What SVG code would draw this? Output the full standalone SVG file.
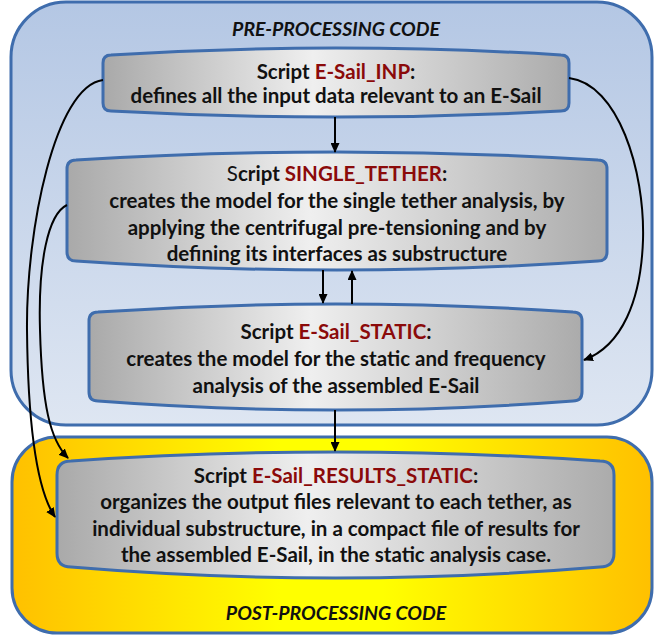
<svg xmlns="http://www.w3.org/2000/svg" width="654" height="637" viewBox="0 0 654 637">
  <defs>
    <linearGradient id="gPre" x1="0" y1="0" x2="0" y2="1">
      <stop offset="0" stop-color="#B4C7E4"/>
      <stop offset="1" stop-color="#DEE6F2"/>
    </linearGradient>
    <linearGradient id="gPost" x1="0" y1="0" x2="1" y2="0">
      <stop offset="0" stop-color="#FFC000"/>
      <stop offset="0.42" stop-color="#FFFF00"/>
      <stop offset="0.58" stop-color="#FFFF00"/>
      <stop offset="1" stop-color="#FFC000"/>
    </linearGradient>
    <linearGradient id="gNode" x1="0" y1="0" x2="1" y2="0">
      <stop offset="0" stop-color="#A9A9A9"/>
      <stop offset="0.45" stop-color="#EFEFEF"/>
      <stop offset="1" stop-color="#ABABAB"/>
    </linearGradient>
    <marker id="ah" markerUnits="userSpaceOnUse" markerWidth="10" markerHeight="9" refX="9" refY="4.5" orient="auto">
      <path d="M0,0 L10,4.5 L0,9 Z" fill="#000"/>
    </marker>
  </defs>
  <style>
    .box { stroke: #3F6DAD; stroke-width: 3; }
    .node { fill: url(#gNode); stroke: #3F6DAD; stroke-width: 3; }
    text { font-family: Lato, "Open Sans", "Liberation Sans", sans-serif; font-size: 20.5px; font-weight: bold; fill: #111; text-anchor: middle; }
    .title { font-style: italic; font-size: 19.5px; }
    .red { fill: #8B0A0A; }
    .reg { font-weight: normal; }
    .conn path { fill: none; stroke: #000; stroke-width: 2; marker-end: url(#ah); }
  </style>

  <!-- containers -->
  <g id="pre-processing">
    <rect class="box" x="11" y="2" width="641" height="423" rx="55" ry="55" fill="url(#gPre)"/>
    <text class="title" x="336" y="36">PRE-PROCESSING CODE</text>
  </g>
  <g id="post-processing">
    <rect class="box" x="12" y="437" width="640" height="196" rx="45" ry="45" fill="url(#gPost)"/>
    <text class="title" x="336" y="620">POST-PROCESSING CODE</text>
  </g>

  <!-- script nodes -->
  <g id="esail-inp">
    <path class="node" d="M103,63 Q103,55 111,55 Q336,41 561,55 Q569,55 569,63 L569,103 Q569,111 561,111 Q336,123 111,111 Q103,111 103,103 Z"/>
    <text x="336" y="79">Script <tspan class="red">E-Sail_INP</tspan>:</text>
    <text x="336" y="103">defines all the input data relevant to an E-Sail</text>
  </g>

  <g id="single-tether">
    <path class="node" d="M67,169 Q67,160 76,160 Q337,144 598,160 Q607,160 607,169 L607,252 Q607,261 598,261 Q337,279 76,261 Q67,261 67,252 Z"/>
    <text x="337" y="181"><tspan class="reg">S</tspan>cript <tspan class="red">SINGLE_TETHER</tspan>:</text>
    <text x="337" y="208">creates the model for the single tether analysis, by</text>
    <text x="337" y="235">applying the centrifugal pre-tensioning and by</text>
    <text x="337" y="261">defining its interfaces as substructure</text>
  </g>

  <g id="esail-static">
    <path class="node" d="M89,321 Q89,312 98,312 Q336,296 573,312 Q582,312 582,321 L582,392 Q582,401 573,401 Q336,419 98,401 Q89,401 89,392 Z"/>
    <text x="336" y="339">Script <tspan class="red">E-Sail_STATIC</tspan>:</text>
    <text x="336" y="366">creates the model for the static and frequency</text>
    <text x="336" y="393">analysis of the assembled E-Sail</text>
  </g>

  <g id="esail-results-static">
    <path class="node" d="M57,475 Q57,461 71,461 Q336,443 600,461 Q614,461 614,475 L614,553 Q614,567 600,567 Q336,589 71,567 Q57,567 57,553 Z"/>
    <text x="336" y="483">Script <tspan class="red">E-Sail_RESULTS_STATIC</tspan>:</text>
    <text x="336" y="509">organizes the output files relevant to each tether, as</text>
    <text x="336" y="536">individual substructure, in a compact file of results for</text>
    <text x="336" y="562">the assembled E-Sail, in the static analysis case.</text>
  </g>

  <!-- connectors -->
  <g id="connectors" class="conn">
    <path d="M335,117 L335,152"/>
    <path d="M323,270 L323,303"/>
    <path d="M352,304 L352,271"/>
    <path d="M335,410 L335,451"/>
    <path d="M103,80 C55,86 26,230 27,330 C28,430 38,492 55,517"/>
    <path d="M67,205 C48,214 38,262 40,330 C42,405 50,440 68,458"/>
    <path d="M569,78 C618,84 645,170 643,240 C641,300 622,346 584,360"/>
  </g>
</svg>
